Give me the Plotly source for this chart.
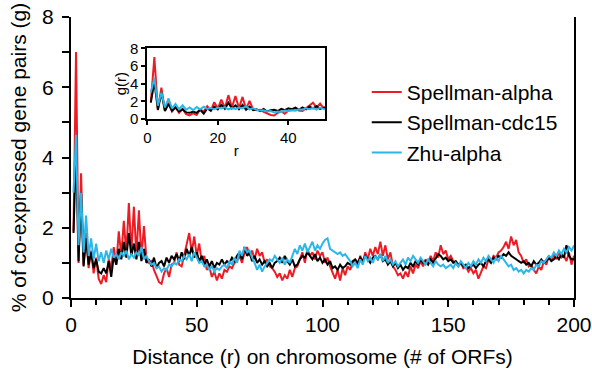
import plotly.graph_objects as go

# ---------------- data ----------------
r = list(range(1, 201))

spellman_alpha = [
    1.9, 7.0, 1.0, 3.55, 0.95, 1.85, 0.85, 1.35, 0.7, 1.15,
    0.55, 0.4, 0.65, 0.45, 1.1, 0.85, 1.45, 0.95, 1.9, 1.2,
    2.2, 1.25, 2.7, 1.3, 2.6, 1.2, 2.5, 1.15, 2.05, 1.1,
    1.0, 1.05, 0.8, 0.6, 0.45, 0.4, 0.7, 0.85, 0.6, 0.95,
    1.0, 1.3, 0.95, 0.9, 1.25, 1.5, 1.85, 1.3, 1.75, 1.2,
    1.55, 1.0, 1.2, 0.8, 0.9, 0.6, 0.75, 0.5, 0.7, 0.55,
    0.8, 0.75, 0.9, 0.85, 1.0, 1.05, 1.2, 1.0, 1.3, 1.45,
    1.2, 1.35, 1.1, 1.4, 1.2, 1.3, 1.0, 1.1, 0.9, 0.85,
    0.75, 0.6, 0.7, 0.5, 0.65, 0.55, 0.8, 0.6, 0.85, 0.9,
    1.1, 1.3, 1.0, 1.4, 1.2, 1.3, 1.1, 1.35, 1.2, 1.3,
    1.0, 1.15, 0.9, 0.75, 0.55, 0.8, 0.5, 0.85, 0.65, 0.9,
    0.8, 1.0, 1.1, 0.9, 1.2, 1.0, 1.3, 1.1, 1.4, 1.2,
    1.45, 1.25, 1.6, 1.2, 1.5, 1.1, 1.3, 0.9, 0.8, 0.65,
    0.7, 0.55, 0.75, 0.6, 0.9, 0.7, 0.95, 0.85, 1.05, 0.9,
    1.1, 1.0, 1.2, 1.05, 1.3, 1.15, 1.5, 1.25, 1.35, 1.1,
    1.2, 1.05, 1.0, 0.9, 1.0, 0.85, 0.9, 0.75, 0.85, 0.7,
    0.8, 0.55, 0.75, 0.9, 0.85, 1.1, 1.0, 1.2, 1.15, 1.3,
    1.35, 1.45, 1.6, 1.4, 1.75, 1.5, 1.65, 1.3, 1.2, 1.0,
    1.1, 0.9, 0.95, 0.8, 0.7, 0.9, 0.8, 1.05, 0.95, 1.2,
    1.05, 1.25, 1.1, 1.3, 1.15, 1.2, 1.05, 1.3, 0.95, 1.2,
]

spellman_cdc15 = [
    1.85, 4.2, 1.05, 3.0, 0.9, 1.7, 0.95, 1.3, 0.85, 1.1,
    0.75, 0.7, 0.85, 0.7, 1.05, 0.6, 1.2, 0.95, 1.4, 1.1,
    1.6, 1.15, 1.85, 1.2, 1.55, 1.1, 1.6, 1.05, 1.4, 1.0,
    1.1, 0.9, 1.15, 0.85, 1.0, 1.05, 0.9, 1.15, 1.0, 1.2,
    1.1, 1.25, 1.05, 1.3, 1.1, 1.4, 1.2, 1.45, 1.15, 1.3,
    1.05, 1.2, 0.95, 1.1, 0.9, 1.05, 0.85, 1.0, 0.95, 1.1,
    0.95, 1.05, 1.0, 1.15, 1.05, 1.2, 1.3, 1.1, 1.45, 1.2,
    1.3, 1.05, 1.2, 1.0, 1.1, 0.95, 1.05, 0.9, 1.0, 0.85,
    1.0, 1.05, 1.15, 1.0, 1.2, 1.05, 0.95, 1.1, 0.9, 0.95,
    1.1, 1.2, 1.15, 1.3, 1.2, 1.1, 1.25, 1.05, 1.15, 1.0,
    1.1, 0.95, 1.05, 0.85, 0.9, 0.8, 0.95, 0.85, 0.9, 1.0,
    0.95, 1.05, 1.1, 1.0, 1.15, 1.05, 1.2, 1.1, 1.0, 1.15,
    1.2, 1.1, 1.25, 1.05, 1.1, 0.95, 1.05, 0.9, 1.0, 0.85,
    0.95, 0.8, 0.9, 0.85, 1.0, 0.9, 1.05, 0.95, 1.1, 1.0,
    1.05, 0.95, 1.1, 1.0, 1.15, 1.25, 1.2, 1.1, 1.15, 1.05,
    1.1, 1.0, 1.05, 0.95, 1.0, 0.9, 0.95, 0.85, 0.9, 0.95,
    0.85, 0.95, 1.0, 0.9, 1.05, 1.1, 1.0, 1.15, 1.1, 1.2,
    1.15, 1.25, 1.2, 1.3, 1.2, 1.15, 1.1, 1.05, 1.0, 1.05,
    0.95, 1.0, 0.9, 1.05, 0.95, 1.0, 1.1, 1.0, 1.05, 1.15,
    1.05, 1.1, 1.2, 1.1, 1.25, 1.15, 1.5, 1.2, 1.1, 1.1,
]

zhu_alpha = [
    3.0, 4.65, 1.5, 3.0, 1.3, 2.35, 1.2, 1.7, 1.1, 1.55,
    1.05, 1.3, 1.0, 1.35, 1.1, 1.4, 1.15, 1.25, 1.1, 1.3,
    1.2, 1.35, 1.1, 1.25, 1.15, 1.3, 1.2, 1.45, 1.1, 1.2,
    1.05, 0.95, 1.0, 0.85, 0.9, 0.75, 0.85, 0.8, 0.95, 0.9,
    1.0, 0.95, 1.1, 1.05, 1.2, 1.1, 1.25, 1.05, 1.3, 1.15,
    1.0, 1.05, 0.9, 0.95, 0.8, 0.9, 0.75, 0.85, 0.8, 0.9,
    0.95, 0.85, 1.05, 0.95, 1.15, 1.0, 1.35, 1.2, 1.45, 1.3,
    1.35, 1.15, 1.0, 0.8, 0.95, 0.75, 0.9, 1.0, 1.1, 1.05,
    1.2, 1.1, 1.0, 1.15, 0.95, 1.1, 1.0, 1.2, 1.4, 1.25,
    1.5, 1.35, 1.55, 1.3, 1.45, 1.6, 1.35, 1.5, 1.4, 1.55,
    1.65, 1.7, 1.4, 1.35, 1.3, 1.25, 1.3, 1.2, 1.25, 1.15,
    1.05, 0.9, 1.0, 0.85, 1.1, 0.95, 1.2, 1.05, 1.15, 1.0,
    1.2, 1.1, 1.25, 1.05, 1.2, 1.0, 1.1, 0.95, 1.05, 0.9,
    1.0, 1.1, 0.95, 1.15, 1.05, 1.2, 1.1, 1.0, 1.15, 1.05,
    0.95, 1.1, 1.0, 0.9, 1.05, 0.95, 0.9, 0.95, 0.85, 0.9,
    0.95, 0.85, 1.0, 0.9, 1.05, 0.95, 0.85, 1.0, 0.9, 1.05,
    0.95, 1.1, 1.0, 1.15, 1.05, 1.2, 1.1, 1.0, 1.15, 1.05,
    1.2, 1.1, 1.0, 0.9, 0.95, 0.8, 0.85, 0.75, 0.8, 0.7,
    0.8, 0.75, 0.85, 0.8, 0.95, 0.9, 1.05, 1.0, 1.1, 1.2,
    1.15, 1.3, 1.2, 1.35, 1.25, 1.4, 1.3, 1.45, 1.35, 1.5,
]

series_names = ["Spellman-alpha", "Spellman-cdc15", "Zhu-alpha"]
series_values = [spellman_alpha, spellman_cdc15, zhu_alpha]
series_colors = ["#ED1C24", "#000000", "#2DB6E8"]

main_xticks = [0, 50, 100, 150, 200]
main_yticks = [0, 1, 2, 3, 4, 5, 6, 7, 8]
main_yticklabels = ["0", "", "2", "", "4", "", "6", "", "8"]
inset_xticks = [0, 20, 40]
inset_yticks = [0, 2, 4, 6, 8]
inset_n = 51

FONT = "Liberation Sans, Arial, sans-serif"

fig = go.Figure()
for name, vals, col in zip(series_names, series_values, series_colors):
    fig.add_trace(go.Scatter(x=r, y=vals, mode="lines", name=name,
                             line=dict(color=col, width=2), xaxis="x", yaxis="y"))
for name, vals, col in zip(series_names, series_values, series_colors):
    fig.add_trace(go.Scatter(x=r[:inset_n], y=vals[:inset_n], mode="lines", name=name,
                             line=dict(color=col, width=2), xaxis="x2", yaxis="y2",
                             showlegend=False))

axis_common = dict(showgrid=False, zeroline=False, showline=True, linecolor="black",
                   linewidth=2, ticks="outside", tickcolor="black", automargin=False)

fig.update_layout(
    width=592, height=378,
    margin=dict(l=71, r=18, t=17, b=80),
    paper_bgcolor="white", plot_bgcolor="white",
    font=dict(family=FONT, color="black", size=21),
    showlegend=True,
    legend=dict(x=0.588, y=0.805, xanchor="left", yanchor="top",
                font=dict(size=21, family=FONT), bgcolor="rgba(0,0,0,0)",
                tracegroupgap=0, itemwidth=30),
    xaxis=dict(domain=[0, 1], range=[0, 200], tickvals=main_xticks, ticklen=7, tickwidth=1.5,
               tickfont=dict(size=21), anchor="y",
               minor=dict(dtick=10, ticks="outside", ticklen=5, tickwidth=1.5, tickcolor="black", showgrid=False),
               title=dict(text="Distance (r) on chromosome (# of ORFs)", font=dict(size=21), standoff=14),
               **axis_common),
    yaxis=dict(domain=[0, 1], range=[0, 8], tickvals=main_yticks, ticktext=main_yticklabels,
               ticklen=7, tickwidth=1.5, tickfont=dict(size=21), mirror=True, anchor="x",
               ticklabelstandoff=4,
               title=dict(text="% of co-expressed gene pairs (g)", font=dict(size=21), standoff=10),
               **axis_common),
    xaxis2=dict(domain=[0.1517, 0.505], range=[0, 50.4], tickvals=inset_xticks, ticklen=4, tickwidth=1.5,
                tickfont=dict(size=15), mirror=True, anchor="y2",
                title=dict(text="r", font=dict(size=15), standoff=0),
                **axis_common),
    yaxis2=dict(domain=[0.637, 0.8886], range=[0, 8], tickvals=inset_yticks, ticklen=4, tickwidth=1.5,
                tickfont=dict(size=15), mirror=True, anchor="x2",
                title=dict(text="g(r)", font=dict(size=15), standoff=0),
                **axis_common),
)

fig.write_html("out.html")
